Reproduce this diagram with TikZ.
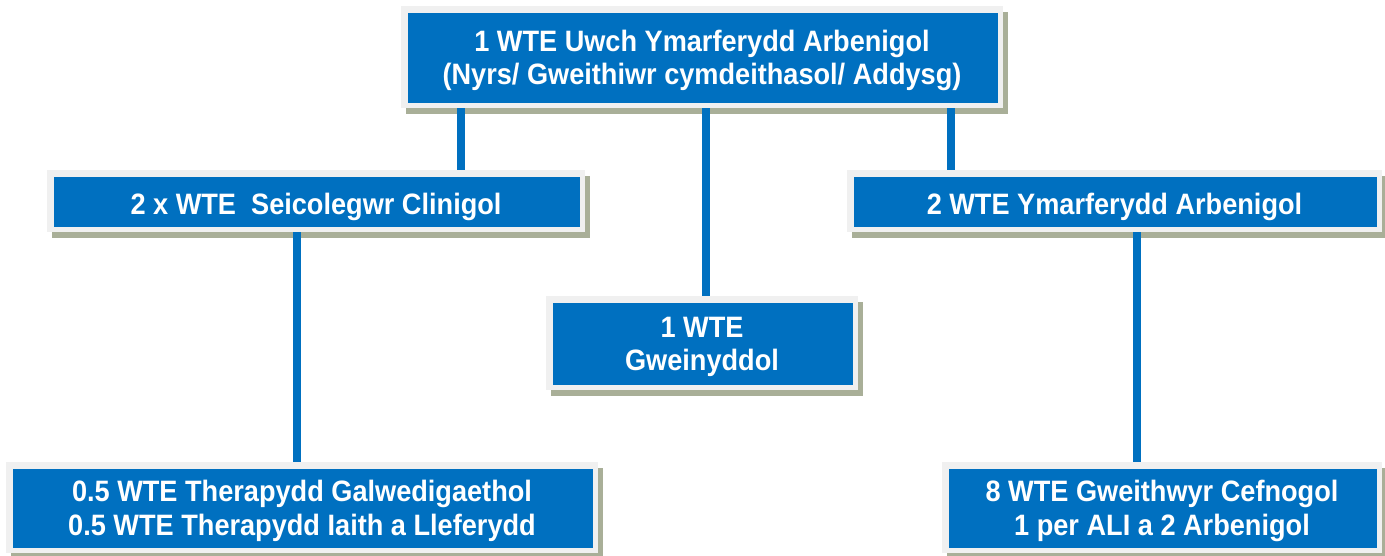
\documentclass[tikz,border=0pt]{standalone}
\usepackage{fontspec}
\setmainfont{Liberation Sans}
\newfontfamily\boxfont[FakeStretch=0.92]{Liberation Sans}
\usetikzlibrary{shadows}
\definecolor{boxblue}{HTML}{0070C0}
\definecolor{framegray}{HTML}{F0F0F0}
\definecolor{shadowgray}{HTML}{A9AF98}
\newcommand\topstrut{\rule{0pt}{33pt}}
\newcommand\multistrut{\rule{0pt}{28pt}}
\tikzset{
  orgbox/.style={fill=framegray, text=white, font=\boxfont\bfseries\fontsize{29.5}{33.5}\selectfont,
    align=center, inner sep=0pt,
    drop shadow={shadow xshift=5pt, shadow yshift=-6pt, fill=shadowgray, opacity=1},
    path picture={\fill[boxblue] ([shift={(7pt,-7pt)}]path picture bounding box.north west)
       rectangle ([shift={(-5pt,5pt)}]path picture bounding box.south east);}},
  conn/.style={draw=boxblue, line width=8pt}
}
\begin{document}
\begin{tikzpicture}[x=1pt,y=-1pt]
\useasboundingbox (0,0) rectangle (1385,555);
\node[orgbox, minimum width=602pt, minimum height=102pt] (top) at (702,57)
  {\multistrut 1 WTE Uwch Ymarferydd Arbenigol\\(Nyrs/ Gweithiwr cymdeithasol/ Addysg)};
\node[orgbox, minimum width=538pt, minimum height=62pt] (left) at (316,201)
  {\topstrut 2 x WTE\ \ Seicolegwr Clinigol};
\node[orgbox, minimum width=535pt, minimum height=62pt] (right) at (1114.5,201)
  {\topstrut 2 WTE Ymarferydd Arbenigol};
\node[orgbox, minimum width=312pt, minimum height=94pt] (mid) at (702,343)
  {\multistrut 1 WTE\\Gweinyddol};
\node[orgbox, minimum width=592pt, minimum height=91pt] (bl) at (302,507.5)
  {\multistrut 0.5 WTE Therapydd Galwedigaethol\\0.5 WTE Therapydd Iaith a Lleferydd};
\node[orgbox, minimum width=440pt, minimum height=91pt] (br) at (1162,507.5)
  {\multistrut 8 WTE Gweithwyr Cefnogol\\1 per ALI a 2 Arbenigol};
\path[conn] (top.south -| 461,0) -- (left.north -| 461,0);
\path[conn] (top.south -| 706,0) -- (mid.north -| 706,0);
\path[conn] (top.south -| 951,0) -- (right.north -| 951,0);
\path[conn] (left.south -| 297,0) -- (bl.north -| 297,0);
\path[conn] (right.south -| 1137,0) -- (br.north -| 1137,0);
\end{tikzpicture}
\end{document}
